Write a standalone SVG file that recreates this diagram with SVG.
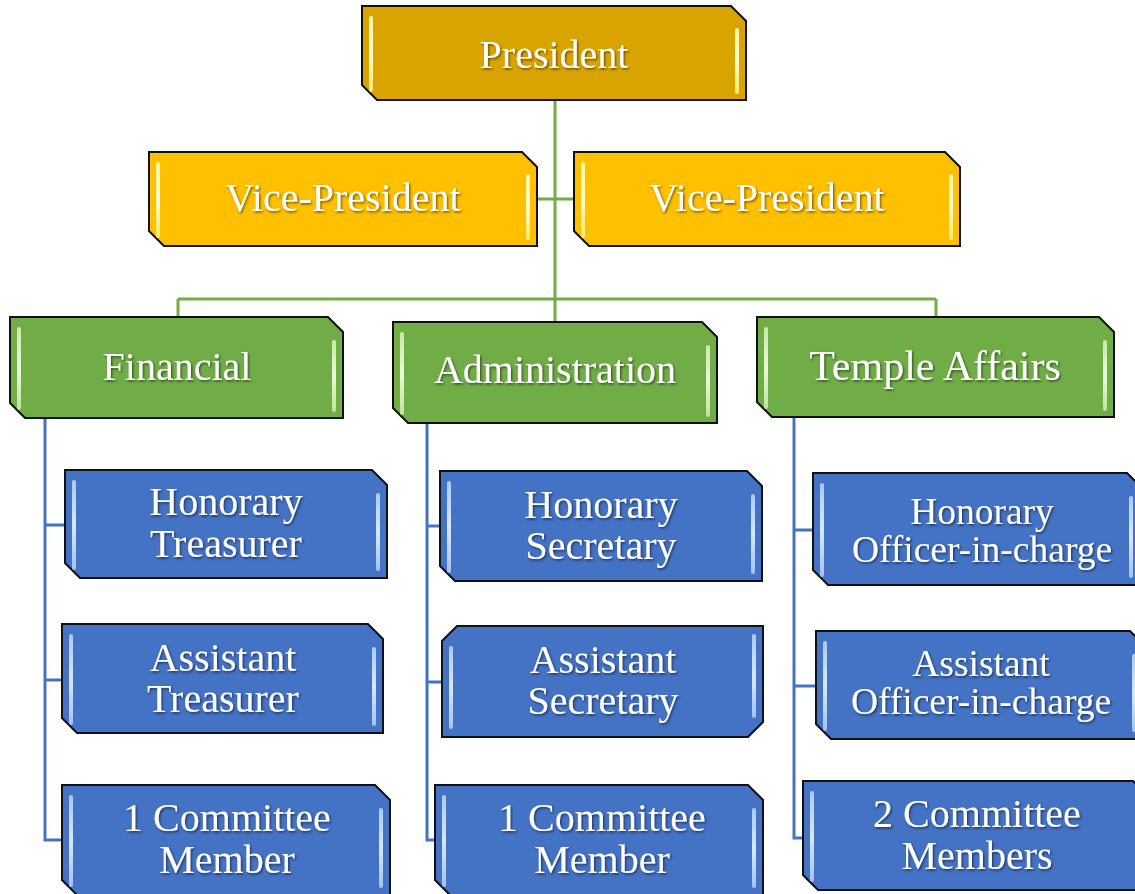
<svg xmlns="http://www.w3.org/2000/svg" width="1135" height="894" viewBox="0 0 1135 894">
<defs>
<filter id="ts" x="-10%" y="-20%" width="120%" height="140%">
<feDropShadow dx="1.2" dy="1.5" stdDeviation="1" flood-color="#000" flood-opacity="0.55"/>
</filter>
<linearGradient id="gy" x1="0" y1="0" x2="0" y2="1"><stop offset="0" stop-color="#fff6a0"/><stop offset="0.5" stop-color="#fffbd0"/><stop offset="1" stop-color="#ffe866"/></linearGradient>
<linearGradient id="gg" x1="0" y1="0" x2="0" y2="1"><stop offset="0" stop-color="#c9e8a8"/><stop offset="0.5" stop-color="#eaf8dc"/><stop offset="1" stop-color="#c0e29c"/></linearGradient>
<linearGradient id="gb" x1="0" y1="0" x2="0" y2="1"><stop offset="0" stop-color="#a9c9f0"/><stop offset="0.5" stop-color="#d8e8fb"/><stop offset="1" stop-color="#a2c2ec"/></linearGradient>
</defs>
<style>
.box{stroke:#111;stroke-width:2;stroke-linejoin:miter}
.pres{fill:#DAA400}
.vp{fill:#FFC000}
.grn{fill:#70AD47}
.blu{fill:#4472C4}
.by{fill:url(#gy)}
.bg{fill:url(#gg)}
.bb{fill:url(#gb)}
.t{font-family:"Liberation Serif","Times New Roman",serif;fill:#fff;text-anchor:middle;font-size:40px;filter:url(#ts)}
.cg{stroke:#70AD47;stroke-width:3;fill:none}
.cb{stroke:#4472C4;stroke-width:3;fill:none}
</style>
<rect width="1135" height="894" fill="#fff"/>

<g id="connectors">
<path class="cg" d="M555,100 V299 M537,199 H574 M178,299 H936 M178,299 V317 M555,299 V322 M936,299 V317"/>
<path class="cb" d="M45,418 V840 H62 M45,525 H65 M45,680 H62"/>
<path class="cb" d="M427,423 V840 H435 M427,526 H440 M427,682 H442"/>
<path class="cb" d="M794,417 V838 H803 M794,530 H813 M794,686 H816"/>
</g>

<g id="president">
<path class="box pres" d="M362,6 H731 L746,21 V100 H377 L362,85 Z"/>
<rect class="by" x="369" y="16" width="4" height="76" rx="2"/>
<rect class="by" x="735" y="28" width="4" height="66" rx="2"/>
<text class="t" x="554" y="68">President</text>
</g>

<g id="vp-left">
<path class="box vp" d="M149,152 H522 L537,167 V246 H164 L149,231 Z"/>
<rect class="by" x="156" y="162" width="4" height="76" rx="2"/>
<rect class="by" x="526" y="174" width="4" height="66" rx="2"/>
<text class="t" x="343" y="211">Vice-President</text>
</g>

<g id="vp-right">
<path class="box vp" d="M574,152 H945 L960,167 V246 H589 L574,231 Z"/>
<rect class="by" x="581" y="162" width="4" height="76" rx="2"/>
<rect class="by" x="949" y="174" width="4" height="66" rx="2"/>
<text class="t" x="767" y="211">Vice-President</text>
</g>

<g id="financial">
<path class="box grn" d="M10,317 H328 L343,332 V418 H25 L10,403 Z"/>
<rect class="bg" x="17" y="327" width="4" height="83" rx="2"/>
<rect class="bg" x="332" y="340" width="4" height="72" rx="2"/>
<text class="t" x="177" y="380">Financial</text>
</g>

<g id="administration">
<path class="box grn" d="M393,322 H702 L717,337 V423 H408 L393,408 Z"/>
<rect class="bg" x="400" y="332" width="4" height="83" rx="2"/>
<rect class="bg" x="706" y="345" width="4" height="72" rx="2"/>
<text class="t" x="555" y="383">Administration</text>
</g>

<g id="temple-affairs">
<path class="box grn" d="M757,317 H1099 L1114,332 V417 H772 L757,402 Z"/>
<rect class="bg" x="764" y="327" width="4" height="82" rx="2"/>
<rect class="bg" x="1103" y="340" width="4" height="71" rx="2"/>
<text class="t" x="935" y="380" style="font-size:42px">Temple Affairs</text>
</g>

<g id="honorary-treasurer">
<path class="box blu" d="M65,470 H372 L387,485 V578 H80 L65,563 Z"/>
<rect class="bb" x="72" y="480" width="4" height="90" rx="2"/>
<rect class="bb" x="376" y="493" width="4" height="78" rx="2"/>
<text class="t" x="226" y="515">Honorary</text>
<text class="t" x="226" y="557">Treasurer</text>
</g>

<g id="assistant-treasurer">
<path class="box blu" d="M62,624 H368 L383,639 V733 H77 L62,718 Z"/>
<rect class="bb" x="69" y="634" width="4" height="91" rx="2"/>
<rect class="bb" x="372" y="647" width="4" height="79" rx="2"/>
<text class="t" x="223" y="671">Assistant</text>
<text class="t" x="223" y="712">Treasurer</text>
</g>

<g id="committee-financial">
<path class="box blu" d="M62,785 H375 L390,800 V895 H77 L62,880 Z"/>
<rect class="bb" x="69" y="795" width="4" height="92" rx="2"/>
<rect class="bb" x="379" y="808" width="4" height="80" rx="2"/>
<text class="t" x="227" y="831">1 Committee</text>
<text class="t" x="227" y="873">Member</text>
</g>

<g id="honorary-secretary">
<path class="box blu" d="M440,471 H747 L762,486 V581 H455 L440,566 Z"/>
<rect class="bb" x="447" y="481" width="4" height="92" rx="2"/>
<rect class="bb" x="751" y="494" width="4" height="80" rx="2"/>
<text class="t" x="601" y="518">Honorary</text>
<text class="t" x="601" y="559">Secretary</text>
</g>

<g id="assistant-secretary">
<path class="box blu" d="M457,626 H763 V722 L748,737 H442 V641 Z"/>
<rect class="bb" x="449" y="646" width="4" height="83" rx="2"/>
<rect class="bb" x="752" y="634" width="4" height="84" rx="2"/>
<text class="t" x="603" y="673">Assistant</text>
<text class="t" x="603" y="714">Secretary</text>
</g>

<g id="committee-administration">
<path class="box blu" d="M435,785 H748 L763,800 V895 H450 L435,880 Z"/>
<rect class="bb" x="442" y="795" width="4" height="92" rx="2"/>
<rect class="bb" x="752" y="808" width="4" height="80" rx="2"/>
<text class="t" x="602" y="831">1 Committee</text>
<text class="t" x="602" y="873">Member</text>
</g>

<g id="honorary-officer">
<path class="box blu" d="M813,473 H1127 L1142,488 V585 H828 L813,570 Z"/>
<rect class="bb" x="820" y="483" width="4" height="94" rx="2"/>
<rect class="bb" x="1129" y="496" width="4" height="82" rx="2"/>
<text class="t" x="982" y="524" style="font-size:37.5px">Honorary</text>
<text class="t" x="982" y="562" style="font-size:37.5px">Officer-in-charge</text>
</g>

<g id="assistant-officer">
<path class="box blu" d="M816,631 H1130 L1145,646 V739 H831 L816,724 Z"/>
<rect class="bb" x="823" y="641" width="4" height="90" rx="2"/>
<rect class="bb" x="1132" y="654" width="4" height="78" rx="2"/>
<text class="t" x="981" y="676" style="font-size:37.5px">Assistant</text>
<text class="t" x="981" y="714" style="font-size:37.5px">Officer-in-charge</text>
</g>

<g id="committee-temple">
<path class="box blu" d="M803,781 H1133 L1148,796 V890 H818 L803,875 Z"/>
<rect class="bb" x="810" y="791" width="4" height="91" rx="2"/>
<rect class="bb" x="1135" y="804" width="4" height="79" rx="2"/>
<text class="t" x="977" y="827">2 Committee</text>
<text class="t" x="977" y="869">Members</text>
</g>
</svg>
